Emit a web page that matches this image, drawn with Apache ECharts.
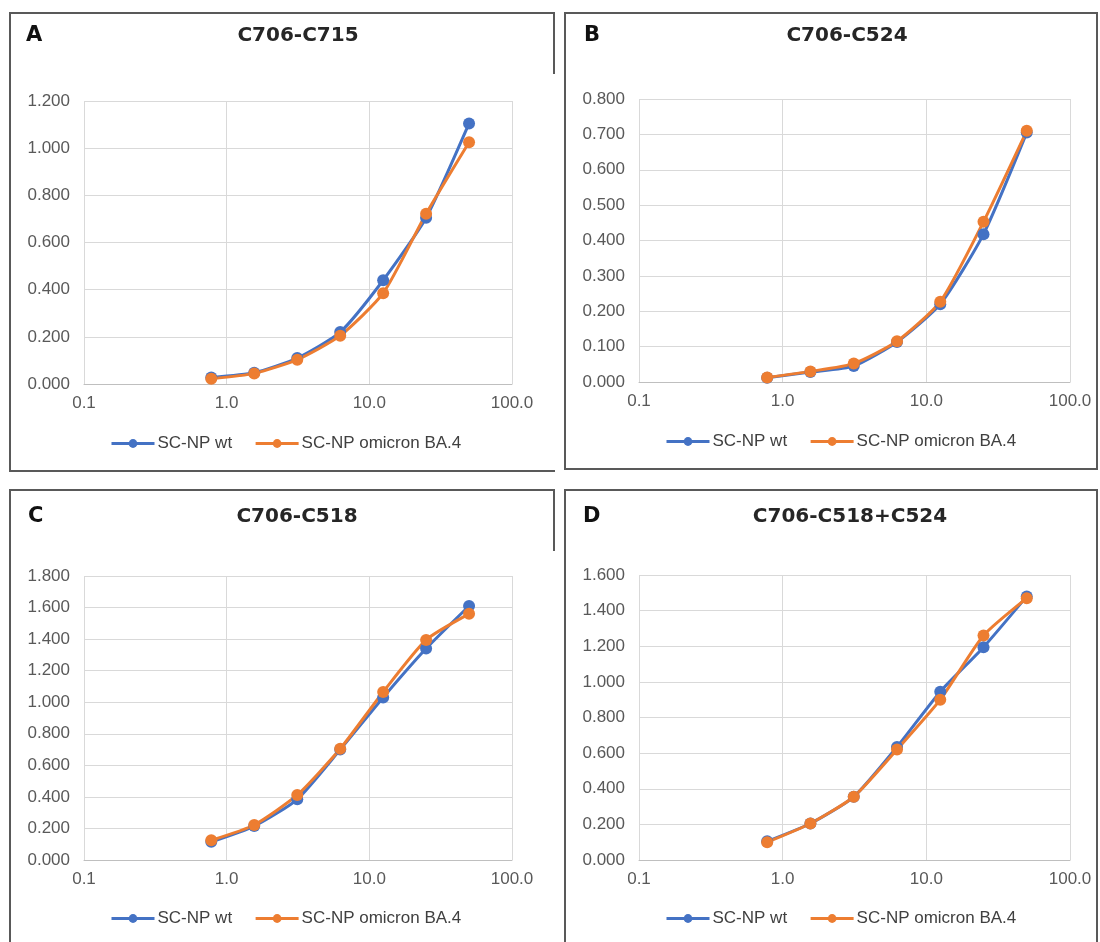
<!DOCTYPE html>
<html>
<head>
<meta charset="utf-8">
<script src="https://cdn.jsdelivr.net/npm/echarts@6/dist/echarts.min.js"></script>
<style>
  html, body { margin: 0; padding: 0; background: #fff; }
  body { width: 1100px; height: 942px; position: relative; overflow: hidden; }
  .panel { position: absolute; box-sizing: border-box; border: 2px solid #595959; border-right: none; }
  .panel.full { border-right: 2px solid #595959; }
  .stub { position: absolute; width: 2px; background: #595959; }
  .chart { position: absolute; left: 0; top: 0; width: 100%; height: 100%; }
</style>
</head>
<body>
<div class="panel" style="left:9px;top:12px;width:546px;height:460px;"><div class="chart" id="chartA"></div></div>
<div class="stub" style="left:553px;top:12px;height:62px;"></div>
<div class="panel full" style="left:564px;top:12px;width:534px;height:458px;"><div class="chart" id="chartB"></div></div>
<div class="panel" style="left:9px;top:489px;width:546px;height:470px;"><div class="chart" id="chartC"></div></div>
<div class="stub" style="left:553px;top:489px;height:62px;"></div>
<div class="panel full" style="left:564px;top:489px;width:534px;height:470px;"><div class="chart" id="chartD"></div></div>

<script>
// two-fold dilution series (x values)
var dilutions = [0.78, 1.56, 3.125, 6.25, 12.5, 25, 50];
var seriesNames = ["SC-NP wt", "SC-NP omicron BA.4"];

var letters = ["A", "B", "C", "D"];
var titles = ["C706-C715", "C706-C524", "C706-C518", "C706-C518+C524"];

// y axis ranges
var yMax = [1.2, 0.8, 1.8, 1.6];
var yStep = [0.2, 0.1, 0.2, 0.2];

// values read per panel
var wtA = [0.028, 0.048, 0.110, 0.220, 0.440, 0.705, 1.105];
var omA = [0.022, 0.045, 0.103, 0.205, 0.385, 0.722, 1.025];
var wtB = [0.012, 0.028, 0.045, 0.113, 0.220, 0.418, 0.705];
var omB = [0.013, 0.030, 0.052, 0.115, 0.227, 0.453, 0.710];
var wtC = [0.115, 0.215, 0.385, 0.700, 1.030, 1.340, 1.610];
var omC = [0.125, 0.222, 0.412, 0.705, 1.065, 1.395, 1.560];
var wtD = [0.105, 0.205, 0.355, 0.635, 0.945, 1.195, 1.480];
var omD = [0.100, 0.205, 0.355, 0.620, 0.900, 1.260, 1.470];

var wtValues = [wtA, wtB, wtC, wtD];
var omValues = [omA, omB, omC, omD];

var colors = ["#4472C4", "#ED7D31"];
var labelFont = "'Liberation Sans', Arial, sans-serif";
var titleFont = "'DejaVu Sans', sans-serif";

// layout per panel (relative to the panel box)
var layouts = [
  { grid: { left: 73, top: 87, width: 428, height: 283 }, titleX: 287, titleY: 22, letterX: 15, letterY: 22, legendTop: 421 },
  { grid: { left: 73, top: 85, width: 431, height: 283 }, titleX: 281, titleY: 22, letterX: 18, letterY: 22, legendTop: 419 },
  { grid: { left: 73, top: 85, width: 428, height: 284 }, titleX: 286, titleY: 26, letterX: 17, letterY: 26, legendTop: 419 },
  { grid: { left: 73, top: 84, width: 431, height: 285 }, titleX: 284, titleY: 26, letterX: 17, letterY: 26, legendTop: 419 }
];

function toPairs(values) {
  return dilutions.map(function(x, i) { return [x, values[i]]; });
}

function buildOption(i) {
  var lay = layouts[i];
  return {
    animation: false,
    color: colors,
    grid: lay.grid,
    graphic: [
      {
        type: "text", x: lay.letterX, y: lay.letterY,
        style: { text: letters[i], fill: "#111", font: "bold 21px " + titleFont, textAlign: "left", textVerticalAlign: "middle" }
      },
      {
        type: "text", x: lay.titleX, y: lay.titleY,
        style: { text: titles[i], fill: "#262626", font: "bold 20px " + titleFont, textAlign: "center", textVerticalAlign: "middle" }
      }
    ],
    legend: {
      left: 99,
      top: lay.legendTop,
      padding: 0,
      itemWidth: 43,
      itemHeight: 11,
      itemGap: 22,
      lineStyle: { width: 3 },
      textStyle: { fontFamily: labelFont, fontSize: 17, color: "#404040", padding: [0, 0, 0, -2] },
      data: seriesNames
    },
    xAxis: {
      type: "log",
      logBase: 10,
      min: 0.1,
      max: 100,
      axisLine: { show: true, lineStyle: { color: "#bfbfbf", width: 1 } },
      axisTick: { show: false },
      splitLine: { show: true, lineStyle: { color: "#d9d9d9", width: 1 } },
      axisLabel: {
        margin: 11,
        fontFamily: labelFont,
        fontSize: 17,
        color: "#595959",
        formatter: function(v) { return v.toFixed(1); }
      }
    },
    yAxis: {
      type: "value",
      min: 0,
      max: yMax[i],
      interval: yStep[i],
      axisLine: { show: false },
      axisTick: { show: false },
      splitLine: { show: true, lineStyle: { color: "#d9d9d9", width: 1 } },
      axisLabel: {
        margin: 14,
        fontFamily: labelFont,
        fontSize: 17,
        color: "#595959",
        formatter: function(v) { return v.toFixed(3); }
      }
    },
    series: [
      {
        name: seriesNames[0],
        type: "line",
        smooth: 0.2,
        symbol: "circle",
        symbolSize: 12,
        lineStyle: { width: 3 },
        data: toPairs(wtValues[i])
      },
      {
        name: seriesNames[1],
        type: "line",
        smooth: 0.2,
        symbol: "circle",
        symbolSize: 12,
        lineStyle: { width: 3 },
        data: toPairs(omValues[i])
      }
    ]
  };
}

["chartA", "chartB", "chartC", "chartD"].forEach(function(id, i) {
  var chart = echarts.init(document.getElementById(id));
  chart.setOption(buildOption(i));
});
</script>
</body>
</html>
